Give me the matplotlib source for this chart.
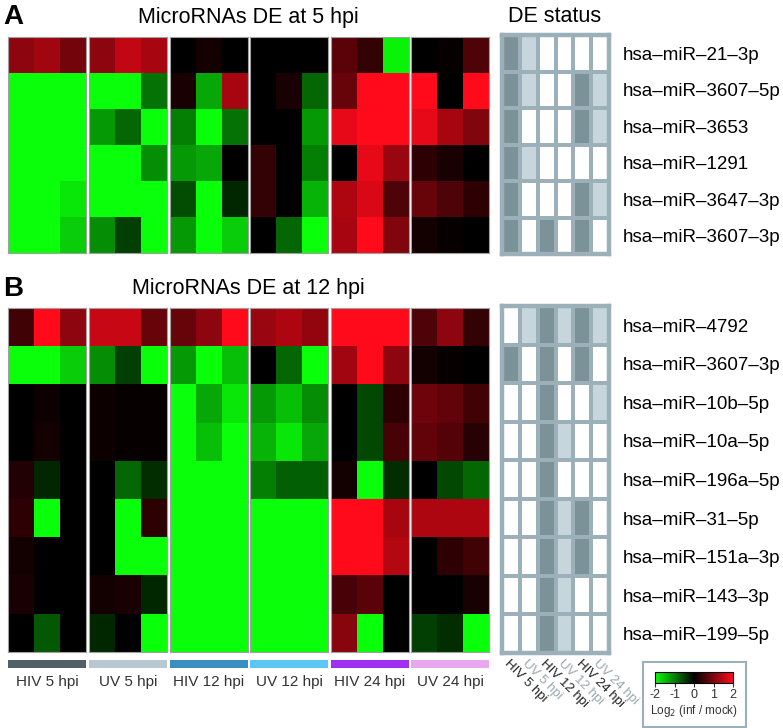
import numpy as np
import matplotlib
matplotlib.use("Agg")
import matplotlib.pyplot as plt
from matplotlib.colors import LinearSegmentedColormap, ListedColormap
from matplotlib.cm import ScalarMappable
from matplotlib.colors import Normalize

plt.rcParams["font.family"] = ["Liberation Sans", "DejaVu Sans"]
plt.rcParams["axes.unicode_minus"] = False

# ---- data -------------------------------------------------------------
groups = ["HIV 5 hpi", "UV 5 hpi", "HIV 12 hpi", "UV 12 hpi", "HIV 24 hpi", "UV 24 hpi"]
group_colors = ["#4f6166", "#b8c8d0", "#3a8ec0", "#5cc6f4", "#a02ff0", "#e8a8f0"]

mirs_a = ["hsa–miR–21–3p", "hsa–miR–3607–5p", "hsa–miR–3653",
          "hsa–miR–1291", "hsa–miR–3647–3p", "hsa–miR–3607–3p"]
mirs_b = ["hsa–miR–4792", "hsa–miR–3607–3p", "hsa–miR–10b–5p", "hsa–miR–10a–5p",
          "hsa–miR–196a–5p", "hsa–miR–31–5p", "hsa–miR–151a–3p",
          "hsa–miR–143–3p", "hsa–miR–199–5p"]

# log2(inf/mock), 3 replicates per condition, conditions in `groups` order
a_values = [
    [1.1, 1.25, 0.9,   1.1, 1.5, 1.3,    0.0, 0.15, 0.0,   0.0, 0.0, 0.0,    0.7, 0.4, -1.9,   0.0, 0.05, 0.6],
    [-2, -2, -2,       -2, -2, -0.9,     0.2, -1.3, 1.3,   0.0, 0.2, -0.8,   0.8, 2, 2,        2, 0.0, 2],
    [-2, -2, -2,       -1.2, -0.8, -2,   -1.0, -2, -0.9,   0.0, 0.0, -1.2,   1.8, 2, 2,        1.8, 1.3, 1.0],
    [-2, -2, -2,       -2, -2, -1.1,     -1.2, -1.3, 0.0,  0.4, 0.0, -1.0,   0.0, 1.8, 1.2,    0.35, 0.2, 0.0],
    [-2, -2, -1.8,     -2, -2, -2,       -0.6, -2, -0.3,   0.4, 0.0, -1.4,   1.35, 1.7, 0.6,   0.8, 0.6, 0.35],
    [-2, -2, -1.6,     -1.1, -0.5, -2,   -1.2, -2, -1.6,   0.0, -0.8, -2,    1.3, 2, 1.0,      0.15, 0.05, 0.0],
]
b_values = [
    [0.5, 2, 1.1,      1.55, 1.55, 0.8,  0.8, 1.1, 2,      1.2, 1.35, 1.15,  2, 2, 2,          0.6, 1.1, 0.4],
    [-2, -2, -1.6,     -1.1, -0.5, -2,   -1.2, -2, -1.5,   0.0, -0.8, -2,    1.25, 2, 1.1,     0.15, 0.05, 0.0],
    [0.0, 0.1, 0.0,    0.1, 0.05, 0.05,  -2, -1.3, -1.8,   -1.2, -1.5, -1.1, 0.0, -0.55, 0.35, 0.85, 0.75, 0.5],
    [0.0, 0.15, 0.0,   0.1, 0.05, 0.05,  -2, -1.5, -2,     -1.4, -1.8, -1.3, 0.0, -0.55, 0.55, 0.75, 0.65, 0.3],
    [0.25, -0.3, 0.0,  0.0, -0.8, -0.35, -2, -2, -2,       -1.0, -0.75, -0.75, 0.15, -2, -0.35, 0.0, -0.55, -0.8],
    [0.35, -2, 0.0,    0.0, -2, 0.35,    -2, -2, -2,       -2, -2, -2,       2, 2, 1.3,        1.35, 1.35, 1.35],
    [0.15, 0.0, 0.0,   0.0, -2, -2,      -2, -2, -2,       -2, -2, -2,       2, 2, 1.4,        0.0, 0.35, 0.5],
    [0.2, 0.0, 0.0,    0.15, 0.2, -0.3,  -2, -2, -2,       -2, -2, -2,       0.55, 0.7, 0.0,   0.0, 0.0, 0.2],
    [0.0, -0.7, 0.0,   -0.3, 0.0, -2,    -2, -2, -2,       -2, -2, -2,       1.05, -2, 0.0,    -0.5, -0.35, -2],
]

# DE status per condition: 0 = not DE, 1 = DE (weak), 2 = DE (strong)
a_status = [
    [2, 1, 0, 0, 0, 0],
    [2, 1, 0, 0, 2, 1],
    [2, 0, 0, 0, 2, 1],
    [2, 1, 0, 0, 0, 0],
    [2, 0, 0, 0, 2, 1],
    [2, 0, 2, 0, 2, 0],
]
b_status = [
    [0, 1, 2, 1, 2, 1],
    [2, 0, 2, 0, 2, 0],
    [0, 0, 2, 0, 0, 1],
    [0, 0, 2, 1, 0, 0],
    [0, 0, 2, 0, 0, 0],
    [0, 0, 2, 1, 2, 0],
    [0, 0, 2, 1, 2, 0],
    [0, 0, 2, 1, 0, 0],
    [0, 0, 2, 1, 0, 0],
]

# ---- styling ----------------------------------------------------------
W, H = 783, 728
heat_cmap = LinearSegmentedColormap.from_list("gkr", ["#0aff0a", "#000000", "#ff0a1a"])
de_cmap = ListedColormap(["#ffffff", "#c6d6dc", "#7b9298"])
de_border = "#9bb0b8"
hiv_txt, uv_txt = "#222222", "#98a9b0"

fig = plt.figure(figsize=(W / 100, H / 100), dpi=100)


def px_axes(x0, y0, w, h):
    return fig.add_axes([x0 / W, 1 - (y0 + h) / H, w / W, h / H])


group_left = [8, 89, 170, 250, 331, 411]
group_w = 78
de_x, de_w = 502, 107


def draw_panel(values, status, mirs, y0, h, de_y0, de_h):
    vals = np.array(values, dtype=float)
    for i, x0 in enumerate(group_left):
        ax = px_axes(x0, y0, group_w, h)
        ax.imshow(vals[:, 3 * i:3 * i + 3], cmap=heat_cmap, vmin=-2, vmax=2,
                  aspect="auto", interpolation="nearest")
        ax.set_xticks([])
        ax.set_yticks([])
        for s in ax.spines.values():
            s.set_color("#a0a0a0")
            s.set_linewidth(0.8)

    ax = px_axes(de_x, de_y0, de_w, de_h)
    ax.pcolormesh(np.array(status), cmap=de_cmap, vmin=-0.5, vmax=2.5,
                  edgecolors=de_border, linewidth=2.6)
    ax.set_xlim(0, 6)
    ax.set_ylim(len(status), 0)
    ax.set_xticks([])
    ax.set_yticks(np.arange(len(mirs)) + 0.5)
    ax.set_yticklabels(mirs, fontsize=13.5)
    ax.yaxis.tick_right()
    ax.tick_params(axis="y", length=0, pad=10)
    for s in ax.spines.values():
        s.set_color(de_border)
        s.set_linewidth(3.2)
    return ax


# Panel A
draw_panel(a_values, a_status, mirs_a, 37, 216, 35, 219)
fig.text(3 / W, 1 - 17 / H, "A", fontsize=20, fontweight="bold", va="center", ha="left")
fig.text(248 / W, 1 - 17 / H, "MicroRNAs DE at 5 hpi", fontsize=15.5, va="center", ha="center")
fig.text(555 / W, 1 - 17 / H, "DE status", fontsize=15.5, va="center", ha="center")

# Panel B
de_b = draw_panel(b_values, b_status, mirs_b, 308, 344, 306, 347)
fig.text(3 / W, 1 - 289 / H, "B", fontsize=20, fontweight="bold", va="center", ha="left")
fig.text(248 / W, 1 - 289 / H, "MicroRNAs DE at 12 hpi", fontsize=15.5, va="center", ha="center")

# condition colour strips + labels
for i, x0 in enumerate(group_left):
    ax = px_axes(x0, 660, group_w, 8)
    ax.set_facecolor(group_colors[i])
    ax.set_xticks([])
    ax.set_yticks([])
    for s in ax.spines.values():
        s.set_visible(False)
    ax.text(0.5, -1.7, groups[i], transform=ax.transAxes, ha="center", va="center",
            fontsize=11, color="#333333")

# rotated DE column labels
for j, g in enumerate(groups):
    de_b.text(j + 0.25, -0.025, g, transform=de_b.get_xaxis_transform(),
              rotation=-45, rotation_mode="anchor", ha="left", va="center",
              fontsize=9.5, color=hiv_txt if g.startswith("HIV") else uv_txt)

# colour key
box = px_axes(643, 662, 103, 65)
box.set_xticks([])
box.set_yticks([])
for s in box.spines.values():
    s.set_color(de_border)
    s.set_linewidth(1.5)
cax = px_axes(655, 672, 78, 11)
cb = fig.colorbar(ScalarMappable(norm=Normalize(-2, 2), cmap=heat_cmap),
                  cax=cax, orientation="horizontal")
cb.set_ticks([-2, -1, 0, 1, 2])
cb.ax.tick_params(labelsize=9, length=3, width=0.8, pad=1, colors="#333333")
cb.outline.set_linewidth(0.8)
cb.set_label("Log$_2$ (inf / mock)", fontsize=8.5, labelpad=2, color="#333333")

fig.savefig("out.png", dpi=100)
